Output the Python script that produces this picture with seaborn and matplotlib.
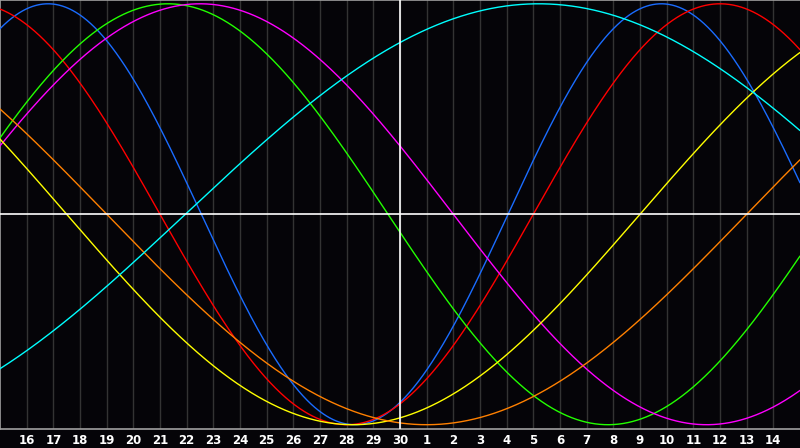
import numpy as np
import pandas as pd
import matplotlib
matplotlib.use("Agg")
import matplotlib.pyplot as plt
import seaborn as sns

# Biorhythm cycles: period (days) and position (chart day index) of a downward zero crossing
cycle_names = ["physical", "emotional", "intellectual", "intuitive", "aesthetic", "awareness", "spiritual"]
periods = [23, 28, 33, 38, 43, 48, 53]
down_crossings = [7.55, 6.0, 14.55, 17.0, 2.5, 4.0, -19.55]
colors = ["#1a6cff", "#ff0000", "#22ff00", "#ff00ff", "#ffff00", "#ff8000", "#00ffff"]

# Day labels along the bottom (chart positions 1..29)
day_labels = [16, 17, 18, 19, 20, 21, 22, 23, 24, 25, 26, 27, 28, 29, 30,
              1, 2, 3, 4, 5, 6, 7, 8, 9, 10, 11, 12, 13, 14]
n_days = 30
today_index = 15

sns.set_theme(style="dark")
plt.rcParams['font.family'] = ['DejaVu Sans']

fig = plt.figure(figsize=(8.0, 4.48), dpi=100, facecolor="#050408")
ax = fig.add_axes([0.0, 19.5 / 448, 1.0, 428.5 / 448])
ax.set_facecolor("#050408")

t = np.linspace(0, n_days, 1200)
rows = []
for name, p, k0 in zip(cycle_names, periods, down_crossings):
    v = -np.sin(2 * np.pi * (t - k0) / p)
    rows.append(pd.DataFrame({"day": t, "value": v, "cycle": name}))
df = pd.concat(rows, ignore_index=True)

# grid lines
for k in range(1, n_days):
    ax.axvline(k, color="#333333", lw=1.0, zorder=1)

sns.lineplot(data=df, x="day", y="value", hue="cycle", hue_order=cycle_names,
             palette=colors, linewidth=1.0, legend=False, ax=ax, zorder=3,
             estimator=None, sort=False)

ax.axvline(today_index, color="white", lw=1.2, zorder=4)
ax.axhline(0, color="white", lw=1.2, zorder=4)

ax.set_xlim(0, n_days)
ax.set_ylim(-1.018, 1.018)
ax.set_xticks(range(1, n_days))
ax.set_xticklabels([str(d) for d in day_labels], color="white",
                   fontsize=8.5, fontweight="bold")
ax.tick_params(axis="x", length=0, pad=4)
ax.set_yticks([])
ax.set_xlabel("")
ax.set_ylabel("")
ax.grid(False)
for side in ["left", "top", "bottom"]:
    ax.spines[side].set_visible(True)
    ax.spines[side].set_color("#a0a0a0")
    ax.spines[side].set_linewidth(1.2)
ax.spines["right"].set_visible(False)

fig.savefig("out.png", dpi=100, facecolor=fig.get_facecolor())
